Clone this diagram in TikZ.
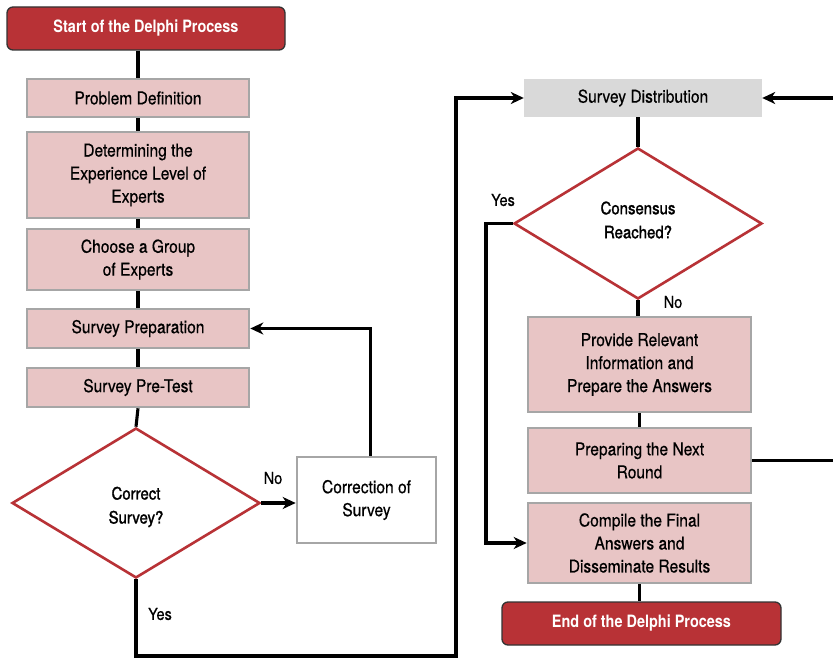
\documentclass[tikz,border=0pt]{standalone}
\usepackage{fontspec}
\setmainfont[FakeStretch=0.88,FakeBold=0.5]{TeX Gyre Heros}
\newfontfamily\dfont[FakeStretch=0.88,FakeBold=1.6]{TeX Gyre Heros}
\newfontfamily\tfont[FakeStretch=0.85]{TeX Gyre Heros}
\usetikzlibrary{shapes.geometric,arrows.meta}
\definecolor{dred}{HTML}{B83236}
\definecolor{pinkf}{HTML}{E8C5C5}
\definecolor{grayb}{HTML}{A6A6A6}
\definecolor{lgray}{HTML}{D9D9D9}
\begin{document}
\begin{tikzpicture}[x=1pt,y=-1pt,
  every node/.style={font=\fontsize{17.7}{23}\selectfont, inner sep=0pt, align=center},
  term/.style={draw=black!80, line width=1.3pt, fill=dred, rounded corners=6pt, text=white, font=\tfont\fontsize{17}{22}\selectfont\bfseries},
  stepbox/.style={draw=grayb, line width=2.6pt, fill=pinkf},
  whitebox/.style={draw=grayb, line width=2.6pt, fill=white},
  graybox/.style={fill=lgray},
  decision/.style={diamond, draw=dred, line width=2.6pt, fill=white},
  dtext/.style={font=\dfont\fontsize{17}{24}\selectfont},
  conn/.style={line width=3.1pt, black},
  arr/.style={conn, -{Stealth[length=13pt,width=12pt,inset=4pt]}},
  lbl/.style={font=\fontsize{16.5}{20}\selectfont}
]
\useasboundingbox (0,0) rectangle (833,658);

% left column
\node[term, minimum width=278, minimum height=43] (start) at (146,28.5) {Start of the Delphi Process};
\node[stepbox, minimum width=222, minimum height=38] (pd) at (138,98) {Problem Definition};
\node[stepbox, minimum width=222, minimum height=86] (det) at (138,175) {Determining the\\Experience Level of\\Experts};
\node[stepbox, minimum width=222, minimum height=61] (grp) at (138,259.5) {Choose a Group\\of Experts};
\node[stepbox, minimum width=222, minimum height=39] (prep) at (138,328.5) {Survey Preparation};
\node[stepbox, minimum width=222, minimum height=39] (pre) at (138,387.5) {Survey Pre-Test};
\node[decision, minimum width=248, minimum height=150] (cs) at (136,503) {};
\node[dtext] (cst) at (136,507) {Correct\\Survey?};
\node[whitebox, minimum width=139, minimum height=86] (corr) at (366.5,500) {Correction of\\Survey};

% right column
\node[graybox, minimum width=238, minimum height=38] (sd) at (643,98) {Survey Distribution};
\node[decision, minimum width=248, minimum height=151] (cons) at (638,223.5) {};
\node[dtext] (const) at (638,220) {Consensus\\Reached?};
\node[stepbox, minimum width=223, minimum height=95] (prov) at (639.5,364.5) {Provide Relevant\\Information and\\Prepare the Answers};
\node[stepbox, minimum width=223, minimum height=65] (next) at (639.5,460.5) {Preparing the Next\\Round};
\node[stepbox, minimum width=223, minimum height=80] (comp) at (639.5,543) {Compile the Final\\Answers and\\Disseminate Results};
\node[term, minimum width=279, minimum height=43] (end) at (641.5,623.5) {End of the Delphi Process};

% labels
\node[lbl] (no1) at (273,478) {No};
\node[lbl] (yes1) at (160,614) {Yes};
\node[lbl] (yes2) at (503,200) {Yes};
\node[lbl] (no2) at (673,302) {No};

% helper coordinates
\coordinate (j1) at (456,656);
\coordinate (j2) at (486,543);
\coordinate (rin) at (833,97);
\coordinate (rout) at (833,466);

% left connectors
\draw[conn] (pd.north |- start.south) -- (pd.north);
\draw[conn] (pd.south) -- (det.north);
\draw[conn] (det.south) -- (grp.north);
\draw[conn] (grp.south) -- (prep.north);
\draw[conn] (prep.south) -- (pre.north);
\draw[conn] (pre.south) -- (cs.north);
\draw[arr] (cs.east) -- (cs.east -| corr.west);
\draw[arr] ([xshift=4pt]corr.north) |- (prep.east);
\draw[arr] (cs.south) |- (j1) |- (sd.west);

% right connectors
\draw[arr] (sd.east -| rin) -- (sd.east);
\draw[conn] (cons.north |- sd.south) -- (cons.north);
\draw[conn] (cons.south) -- (cons.south |- prov.north);
\draw[conn] (prov.south) -- (next.north);
\draw[conn] (next.east) -- (next.east -| rout);
\draw[arr] (cons.west) -| (j2) -- (comp.west);
\draw[conn] (comp.south) -- (comp.south |- end.north);
\end{tikzpicture}
\end{document}
